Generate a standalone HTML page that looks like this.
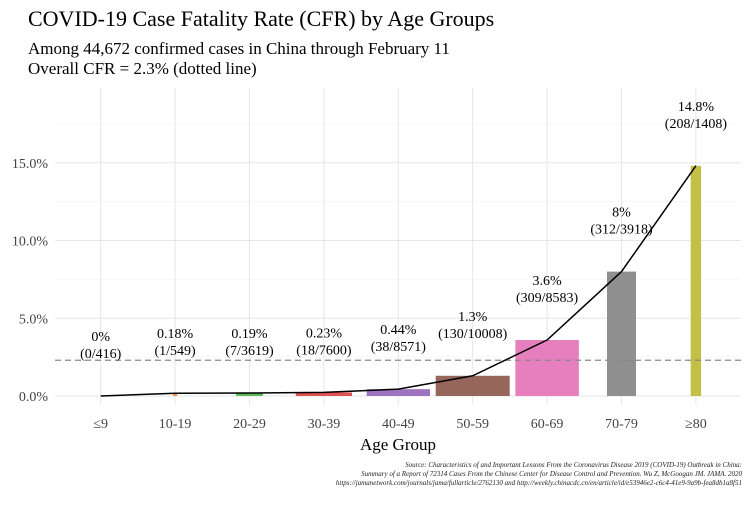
<!DOCTYPE html>
<html><head><meta charset="utf-8"><style>
body{margin:0;background:#fff;}
svg text{font-family:"Liberation Serif",serif;}
</style></head><body>
<svg id="c" width="750" height="500" xmlns="http://www.w3.org/2000/svg">
<text x="28" y="26" font-size="22" fill="#000">COVID-19 Case Fatality Rate (CFR) by Age Groups</text>
<text x="28" y="54" font-size="17" fill="#000">Among 44,672 confirmed cases in China through February 11</text>
<text x="28" y="74" font-size="17" fill="#000">Overall CFR = 2.3% (dotted line)</text>
<g id="grid"></g>
<g id="bars"></g>
<g id="labels"></g>
<text x="398" y="450" font-size="17" text-anchor="middle">Age Group</text>
<g font-size="7" font-style="italic" text-anchor="end" fill="#222">
<text x="742" y="467">Source: Characteristics of and Important Lessons From the Coronavirus Disease 2019 (COVID-19) Outbreak in China:</text>
<text x="742" y="476">Summary of a Report of 72314 Cases From the Chinese Center for Disease Control and Prevention. Wu Z, McGoogan JM. JAMA. 2020</text>
<text x="742" y="485">https://jamanetwork.com/journals/jama/fullarticle/2762130 and http://weekly.chinacdc.cn/en/article/id/e53946e2-c6c4-41e9-9a9b-fea8db1a8f51</text>
</g>
</svg>
<script>
const categories=["≤9","10-19","20-29","30-39","40-49","50-59","60-69","70-79","≥80"];
const cfr=[0,0.18,0.19,0.23,0.44,1.3,3.6,8,14.8];
const cfrLabels=["0%","0.18%","0.19%","0.23%","0.44%","1.3%","3.6%","8%","14.8%"];
const deaths=[0,1,7,18,38,130,309,312,208];
const cases=[416,549,3619,7600,8571,10008,8583,3918,1408];
const colors=["#377eb8","#f0894a","#5cb85c","#e05252","#9e73c0","#96665a","#e77fbf","#8f8f8f","#c2c146"];
const yTicks=[0,5,10,15];
const overall=2.3;
const NS="http://www.w3.org/2000/svg";
const x=i=>100.7+i*74.4;
const y=v=>396-v*15.55;
const w=n=>n/10008*74;
function mk(t,a,p){const e=document.createElementNS(NS,t);for(const k in a)e.setAttribute(k,a[k]);p.appendChild(e);return e;}
const g=document.getElementById('grid'),b=document.getElementById('bars'),l=document.getElementById('labels');
for(let v=0;v<=17.5;v+=2.5){const ln=mk('line',{x1:55,x2:741,y1:y(v),y2:y(v),stroke:v%5===0?'#e6e6e6':'#f2f2f2','stroke-width':v%5===0?1:0.6},g);

}
for(let i=0;i<categories.length;i++){const ln=mk('line',{x1:x(i),x2:x(i),y1:88,y2:405,stroke:'#e6e6e6'},g);

}
yTicks.forEach(v=>{const t=mk('text',{x:48,y:y(v)+5,'font-size':14,'text-anchor':'end',fill:'#444'},g);t.textContent=v.toFixed(1)+'%';

});
categories.forEach((c,i)=>{const t=mk('text',{x:x(i),y:428,'font-size':14,'text-anchor':'middle',fill:'#444'},g);t.textContent=c;


const r=mk('rect',{x:x(i)-w(cases[i])/2,y:y(cfr[i]),width:w(cases[i]),height:396-y(cfr[i]),fill:colors[i]},b);


const t1=mk('text',{x:x(i),y:y(cfr[i])-55,'font-size':14,'text-anchor':'middle'},l);t1.textContent=cfrLabels[i];


const t2=mk('text',{x:x(i),y:y(cfr[i])-38,'font-size':14,'text-anchor':'middle'},l);t2.textContent='('+deaths[i]+'/'+cases[i]+')';

});
const dl=mk('line',{x1:55,x2:741,y1:y(overall),y2:y(overall),stroke:'#888','stroke-dasharray':'6,4','stroke-width':1.2},b);


const pl=mk('polyline',{points:cfr.map((v,i)=>x(i)+','+y(v)).join(' '),fill:'none',stroke:'#000','stroke-width':1.5},b);


</script>
</body></html>
